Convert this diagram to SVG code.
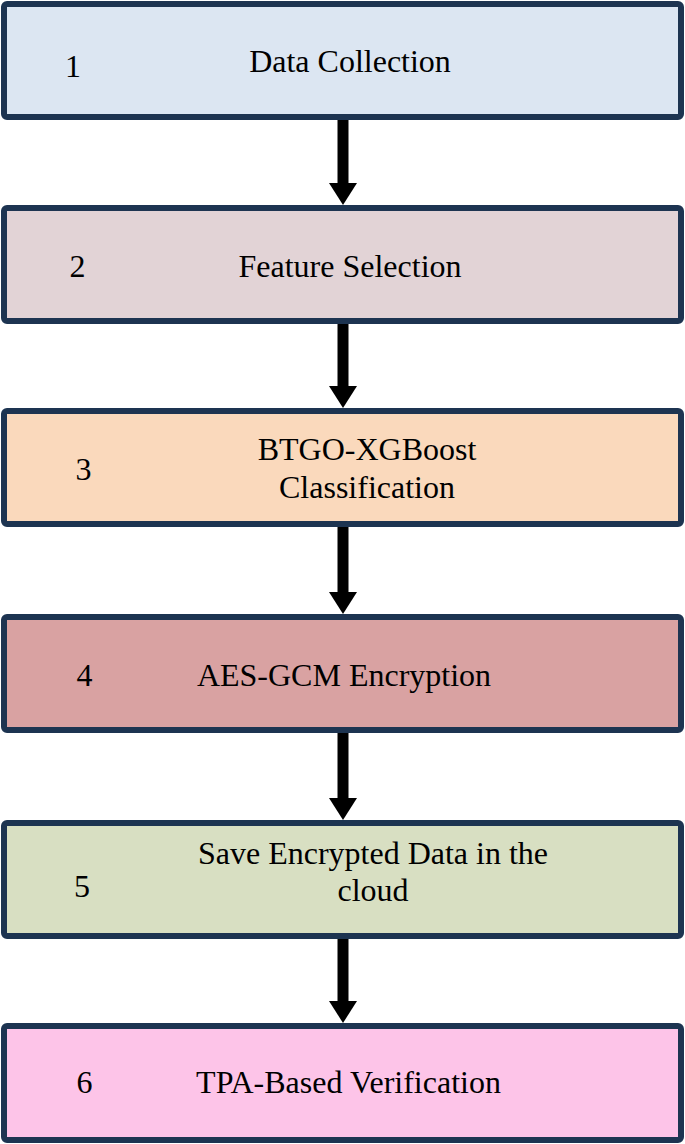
<svg xmlns="http://www.w3.org/2000/svg" width="685" height="1144" viewBox="0 0 685 1144">
<style>
.box{stroke:#1d3451;stroke-width:6}
.t{font-family:"Liberation Serif","Times New Roman",serif;font-size:32px;fill:#000}
.c{text-anchor:middle}
.arr{stroke:#000;stroke-width:11;fill:none}
</style>
<defs>
<marker id="ah" markerUnits="userSpaceOnUse" viewBox="0 0 22 28" markerWidth="22" markerHeight="28" refX="12" refY="14" orient="auto">
<path d="M0,0 L22,14 L0,28 z" fill="#000"/>
</marker>
</defs>
<rect width="685" height="1144" fill="#fff"/>
<g id="connectors">
<line class="arr" x1="343" y1="120" x2="343" y2="195" marker-end="url(#ah)"/>
<line class="arr" x1="343" y1="324" x2="343" y2="398" marker-end="url(#ah)"/>
<line class="arr" x1="343" y1="527" x2="343" y2="604" marker-end="url(#ah)"/>
<line class="arr" x1="343" y1="733" x2="343" y2="810" marker-end="url(#ah)"/>
<line class="arr" x1="343" y1="939" x2="343" y2="1013" marker-end="url(#ah)"/>
</g>
<g id="node1">
<rect class="box" x="4" y="4" width="677" height="113" rx="3" fill="#dce6f2"/>
<text class="t c" x="73" y="77">1</text>
<text class="t c" x="350" y="72">Data Collection</text>
</g>
<g id="node2">
<rect class="box" x="4" y="208" width="677" height="113" rx="3" fill="#e2d3d6"/>
<text class="t c" x="77.5" y="277">2</text>
<text class="t c" x="350" y="277">Feature Selection</text>
</g>
<g id="node3">
<rect class="box" x="4" y="411" width="677" height="113" rx="3" fill="#fad9bc"/>
<text class="t c" x="83.5" y="480">3</text>
<text class="t c" x="367" y="460">BTGO-XGBoost</text>
<text class="t c" x="367" y="498">Classification</text>
</g>
<g id="node4">
<rect class="box" x="4" y="617" width="677" height="113" rx="3" fill="#d9a2a2"/>
<text class="t c" x="84.5" y="686">4</text>
<text class="t c" x="344" y="686">AES-GCM Encryption</text>
</g>
<g id="node5">
<rect class="box" x="4" y="823" width="677" height="113" rx="3" fill="#d8dfc2"/>
<text class="t c" x="82" y="897">5</text>
<text class="t c" x="373" y="864">Save Encrypted Data in the</text>
<text class="t c" x="373" y="901">cloud</text>
</g>
<g id="node6">
<rect class="box" x="4" y="1026" width="677" height="114" rx="3" fill="#fdc4e8"/>
<text class="t c" x="84.5" y="1093">6</text>
<text class="t c" x="348.5" y="1093">TPA-Based Verification</text>
</g>
</svg>
